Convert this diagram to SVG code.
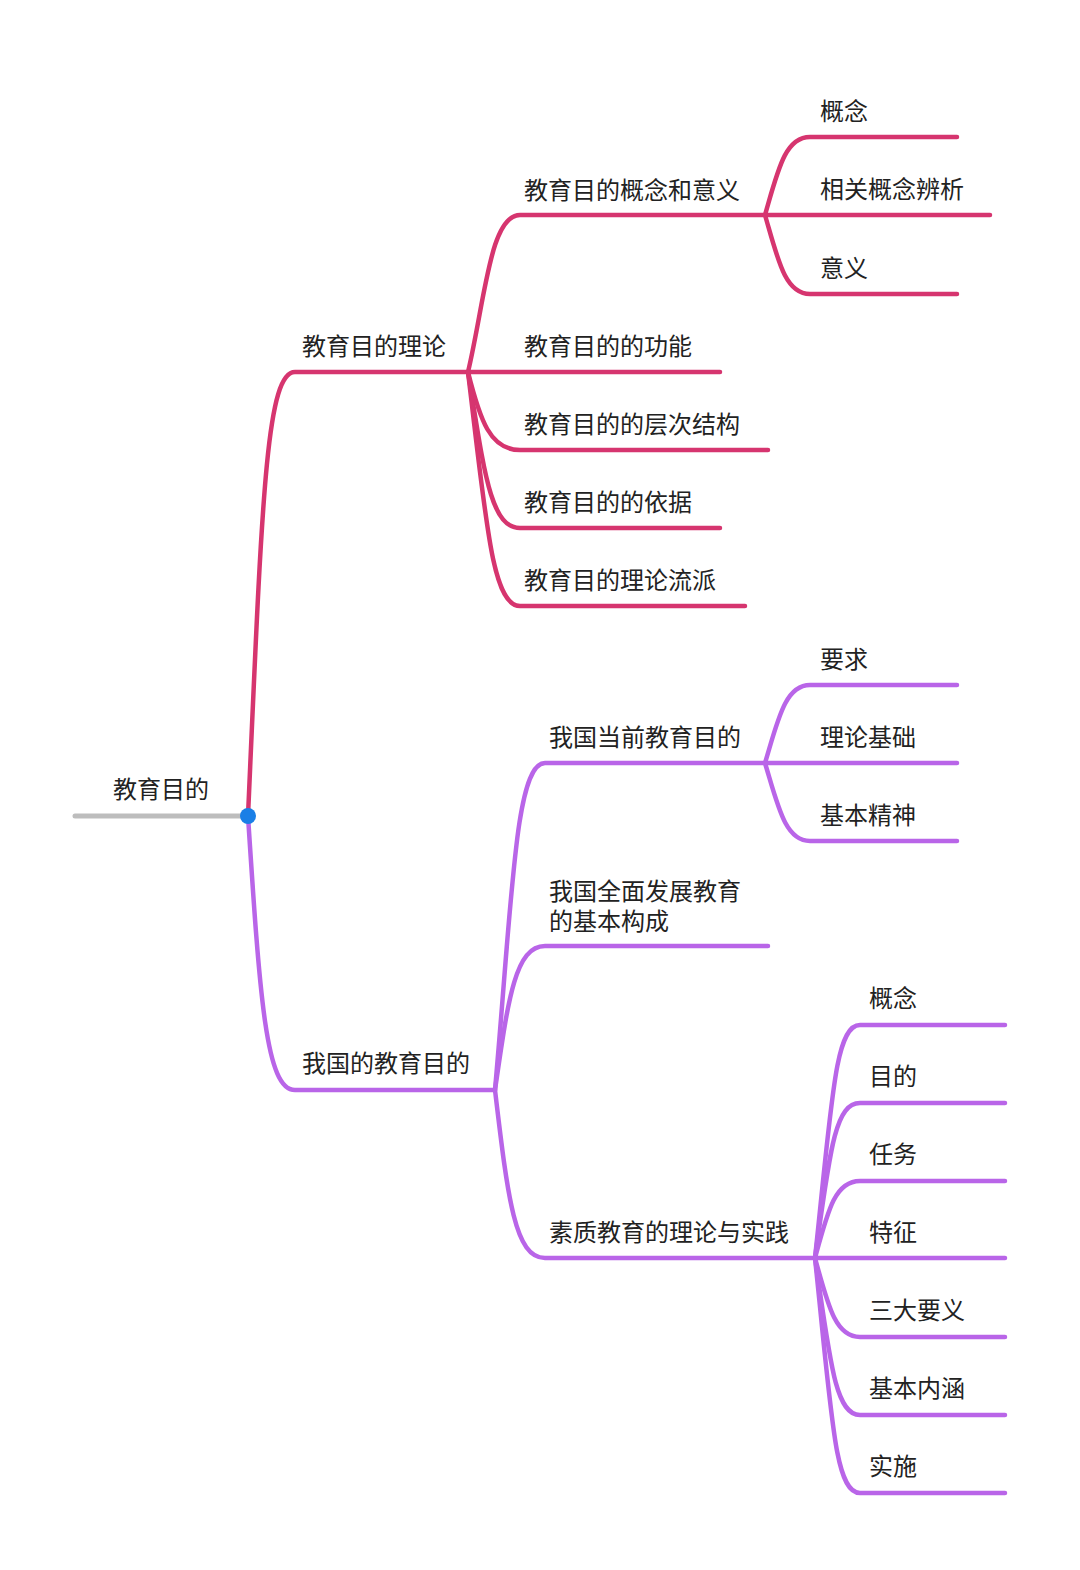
<svg xmlns="http://www.w3.org/2000/svg" width="1080" height="1570" viewBox="0 0 1080 1570">
<style>
text{font-family:"Noto Sans CJK SC","Noto Sans",sans-serif;font-size:24px;fill:#222}
.p{fill:none;stroke:#d6356f;stroke-width:4.5;stroke-linecap:round}
.v{fill:none;stroke:#b965e8;stroke-width:4.5;stroke-linecap:round}
</style>
<rect width="1080" height="1570" fill="#fff"/>
<g id="connectors">
<path d="M75 816H248" stroke="#bdbdbd" stroke-width="5" stroke-linecap="round" fill="none"/>
<path class="p" d="M248 816C262 500 266 372 295 372H468"/>
<path class="v" d="M248 816C260 1000 266 1090 295 1090H495"/>
<path class="p" d="M468 372C485 300 490 215 520 215H765"/>
<path class="p" d="M468 372H720"/>
<path class="p" d="M468 372C480 420 490 450 520 450H768"/>
<path class="p" d="M468 372C484 470 490 528 520 528H720"/>
<path class="p" d="M468 372C486 520 492 606 520 606H745"/>
<path class="p" d="M765 215C778 170 785 137 810 137H957"/>
<path class="p" d="M765 215H990"/>
<path class="p" d="M765 215C778 260 785 294 810 294H957"/>
<path class="v" d="M495 1090C512 900 515 763 545 763H765"/>
<path class="v" d="M495 1090C508 1000 515 946 545 946H768"/>
<path class="v" d="M495 1090C508 1200 515 1258 545 1258H815"/>
<path class="v" d="M765 763C778 720 785 685 810 685H957"/>
<path class="v" d="M765 763H957"/>
<path class="v" d="M765 763C778 806 785 841 810 841H957"/>
<path class="v" d="M815 1258C832 1100 835 1025 860 1025H1005"/>
<path class="v" d="M815 1258C830 1150 835 1103 860 1103H1005"/>
<path class="v" d="M815 1258C828 1210 835 1181 860 1181H1005"/>
<path class="v" d="M815 1258H1005"/>
<path class="v" d="M815 1258C828 1305 835 1337 860 1337H1005"/>
<path class="v" d="M815 1258C830 1360 835 1415 860 1415H1005"/>
<path class="v" d="M815 1258C832 1420 835 1493 860 1493H1005"/>
<circle cx="248" cy="816" r="8" fill="#1a7fe6"/>
</g>
<g id="root"><text x="113" y="798">教育目的</text></g>
<g id="n1"><text x="302" y="355">教育目的理论</text></g>
<g id="n2"><text x="302" y="1072">我国的教育目的</text></g>
<g id="n11"><text x="524" y="199">教育目的概念和意义</text></g>
<g id="n12"><text x="524" y="355">教育目的的功能</text></g>
<g id="n13"><text x="524" y="433">教育目的的层次结构</text></g>
<g id="n14"><text x="524" y="511">教育目的的依据</text></g>
<g id="n15"><text x="524" y="589">教育目的理论流派</text></g>
<g id="n111"><text x="820" y="120">概念</text></g>
<g id="n112"><text x="820" y="198">相关概念辨析</text></g>
<g id="n113"><text x="820" y="277">意义</text></g>
<g id="n21"><text x="549" y="746">我国当前教育目的</text></g>
<g id="n22"><text x="549" y="900">我国全面发展教育</text><text x="549" y="930">的基本构成</text></g>
<g id="n23"><text x="549" y="1241">素质教育的理论与实践</text></g>
<g id="n211"><text x="820" y="668">要求</text></g>
<g id="n212"><text x="820" y="746">理论基础</text></g>
<g id="n213"><text x="820" y="824">基本精神</text></g>
<g id="n231"><text x="869" y="1007">概念</text></g>
<g id="n232"><text x="869" y="1085">目的</text></g>
<g id="n233"><text x="869" y="1163">任务</text></g>
<g id="n234"><text x="869" y="1241">特征</text></g>
<g id="n235"><text x="869" y="1319">三大要义</text></g>
<g id="n236"><text x="869" y="1397">基本内涵</text></g>
<g id="n237"><text x="869" y="1475">实施</text></g>
</svg>
